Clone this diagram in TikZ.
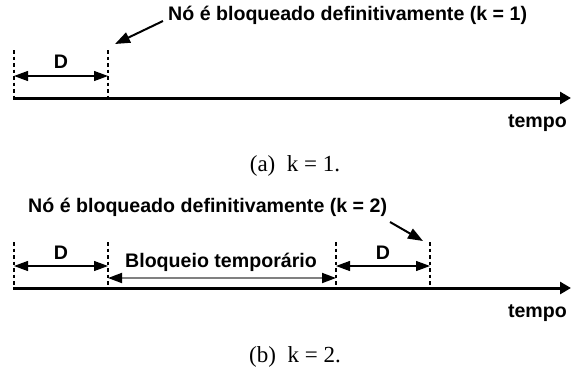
\documentclass[tikz,border=0pt]{standalone}
\usepackage{fontspec}
\newfontfamily\lab{Liberation Sans}
\newfontfamily\capf{Liberation Serif}
\usetikzlibrary{arrows.meta}
\tikzset{
  lbl/.style={font=\lab\bfseries\fontsize{19.6}{23}\selectfont, inner sep=0pt},
  captxt/.style={font=\capf\fontsize{23}{27}\selectfont, inner sep=0pt},
  axis/.style={line width=3pt, -{Triangle[length=11pt,width=12pt]}},
  tick/.style={line width=2.6pt, dash pattern=on 3.5pt off 3pt},
  dim/.style={line width=1.2pt, {Triangle[length=14pt,width=10pt]}-{Triangle[length=14pt,width=10pt]}},
  tmp/.style={line width=1.8pt, black!50, {Triangle[length=14pt,width=10pt,color=black]}-{Triangle[length=14pt,width=10pt,color=black]}},
  ann/.style={line width=2pt, -{Triangle[length=15pt,width=11pt]}}
}
\begin{document}
\begin{tikzpicture}[x=1pt,y=-1pt]
\useasboundingbox (0,0) rectangle (571,373);
% ---------- panel (a) ----------
\coordinate (A0) at (13,98);
\coordinate (A1) at (571,98);
\coordinate (a1t) at (14,50);  \coordinate (a1b) at (14,98);
\coordinate (a2t) at (108,50); \coordinate (a2b) at (108,98);
\coordinate (ad1) at (14,76);  \coordinate (ad2) at (108,76);
\draw[axis] (A0) -- (A1);
\draw[tick] (a1t) -- (a1b);
\draw[tick] (a2t) -- (a2b);
\draw[dim] (ad1) -- (ad2);
\node[lbl] (aD) at (61,62) {D};
\node[lbl, anchor=west] (aNote) at (168,15) {Nó é bloqueado definitivamente (k = 1)};
\coordinate (aTail) at (163,21);
\coordinate (aArr) at (115,44);
\draw[ann] (aTail) -- (aArr);
\node[lbl, anchor=east] (aTempo) at (567,123) {tempo};
\node[captxt] (aCap) at (295,166) {(a)~ k = 1.};
% ---------- panel (b) ----------
\coordinate (B0) at (13,288);
\coordinate (B1) at (571,288);
\coordinate (b1t) at (14,242);  \coordinate (b1b) at (14,288);
\coordinate (b2t) at (108,242); \coordinate (b2b) at (108,288);
\coordinate (b3t) at (336,242); \coordinate (b3b) at (336,288);
\coordinate (b4t) at (430,242); \coordinate (b4b) at (430,288);
\coordinate (bd1) at (14,266);  \coordinate (bd2) at (108,266);
\coordinate (bd3) at (336,266); \coordinate (bd4) at (430,266);
\coordinate (bt1) at (108,278); \coordinate (bt2) at (336,278);
\draw[axis] (B0) -- (B1);
\draw[tick] (b1t) -- (b1b);
\draw[tick] (b2t) -- (b2b);
\draw[tick] (b3t) -- (b3b);
\draw[tick] (b4t) -- (b4b);
\draw[dim] (bd1) -- (bd2);
\draw[dim] (bd3) -- (bd4);
\draw[tmp] (bt1) -- (bt2);
\node[lbl] (bD1) at (61,253) {D};
\node[lbl] (bD2) at (383,253) {D};
\node[lbl] (bTmp) at (221,262) {Bloqueio temporário};
\node[lbl, anchor=west] (bNote) at (28,207) {Nó é bloqueado definitivamente (k = 2)};
\coordinate (bTail) at (390,222);
\coordinate (bArr) at (423,241);
\draw[ann] (bTail) -- (bArr);
\node[lbl, anchor=east] (bTempo) at (567,313) {tempo};
\node[captxt] (bCap) at (295,357) {(b)~ k = 2.};
\end{tikzpicture}
\end{document}
